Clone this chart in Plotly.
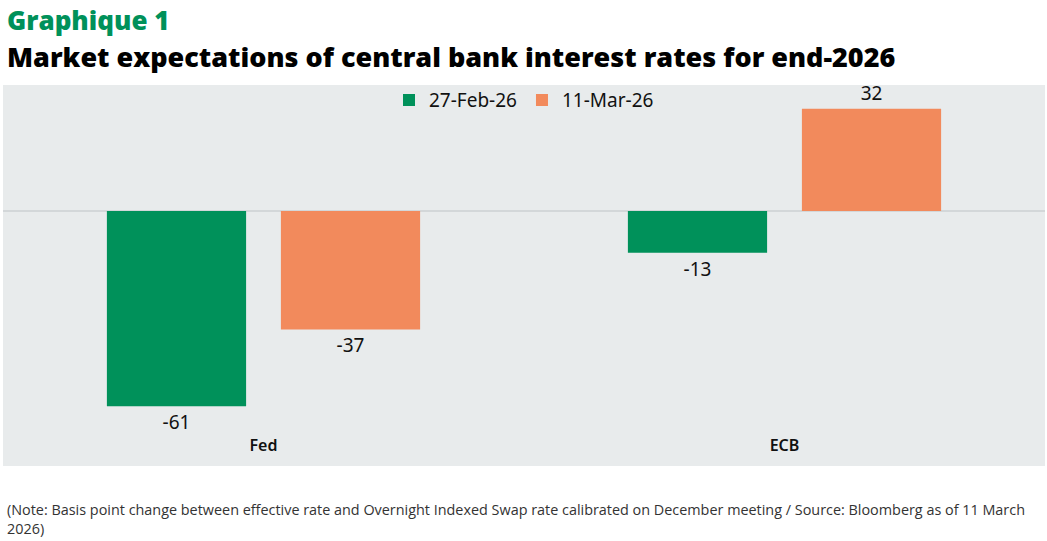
import plotly.graph_objects as go

# data
banks = ["Fed", "ECB"]
feb_27 = [-61, -13]
mar_11 = [-37, 32]
series_names = ["27-Feb-26", "11-Mar-26"]

GREEN = "#00915A"
ORANGE = "#F28A5C"
BG = "#E8EBEC"

fig = go.Figure()
for vals, name, col in [(feb_27, series_names[0], GREEN), (mar_11, series_names[1], ORANGE)]:
    fig.add_trace(go.Bar(x=banks, y=vals, name=name, marker_color=col,
                         text=[str(v) for v in vals], textposition="outside",
                         constraintext="none", cliponaxis=False))
fig.update_traces(textfont=dict(size=19, color="#111111", family="Noto Sans"), marker_line_width=0)

fig.update_layout(
    width=1047, height=541,
    margin=dict(l=3, r=2, t=85, b=75),
    paper_bgcolor="white", plot_bgcolor=BG,
    font=dict(family="Noto Sans", color="#111111"),
    barmode="group", bargap=0.332, bargroupgap=0.2,
    showlegend=True,
    legend=dict(orientation="h", x=0.5, xanchor="center", y=1.01, yanchor="top",
                font=dict(size=19), bgcolor="rgba(0,0,0,0)", itemwidth=30),
    xaxis=dict(anchor="free", position=0.083, showline=False, showgrid=False,
               ticks="", tickfont=dict(size=16, color="#111111", weight=600)),
    yaxis=dict(range=[-79.7, 39.4], showticklabels=False, showgrid=False,
               zeroline=True, zerolinecolor="#D3D7D9", zerolinewidth=1.5),
)

fig.add_annotation(text="Graphique 1", xref="paper", yref="paper", x=0.002, y=1.17,
                   xanchor="left", yanchor="middle", showarrow=False,
                   font=dict(size=26, color=GREEN, family="Open Sans", weight=800))
fig.add_annotation(text="Market expectations of central bank interest rates for end-2026",
                   xref="paper", yref="paper", x=0.002, y=1.075,
                   xanchor="left", yanchor="middle", showarrow=False,
                   font=dict(size=27, color="#000000", family="Open Sans", weight=800))
fig.add_annotation(text="(Note: Basis point change between effective rate and Overnight Indexed Swap rate "
                        "calibrated on December meeting / Source: Bloomberg as of 11 March<br>2026)",
                   xref="paper", yref="paper", x=0.002, y=-0.085,
                   xanchor="left", yanchor="top", align="left", showarrow=False,
                   font=dict(size=14.4, color="#333333", family="Open Sans"))

fig.write_html("out.html", config={"displayModeBar": False},
               post_script="document.body.style.margin='0';document.body.style.overflow='hidden';")
